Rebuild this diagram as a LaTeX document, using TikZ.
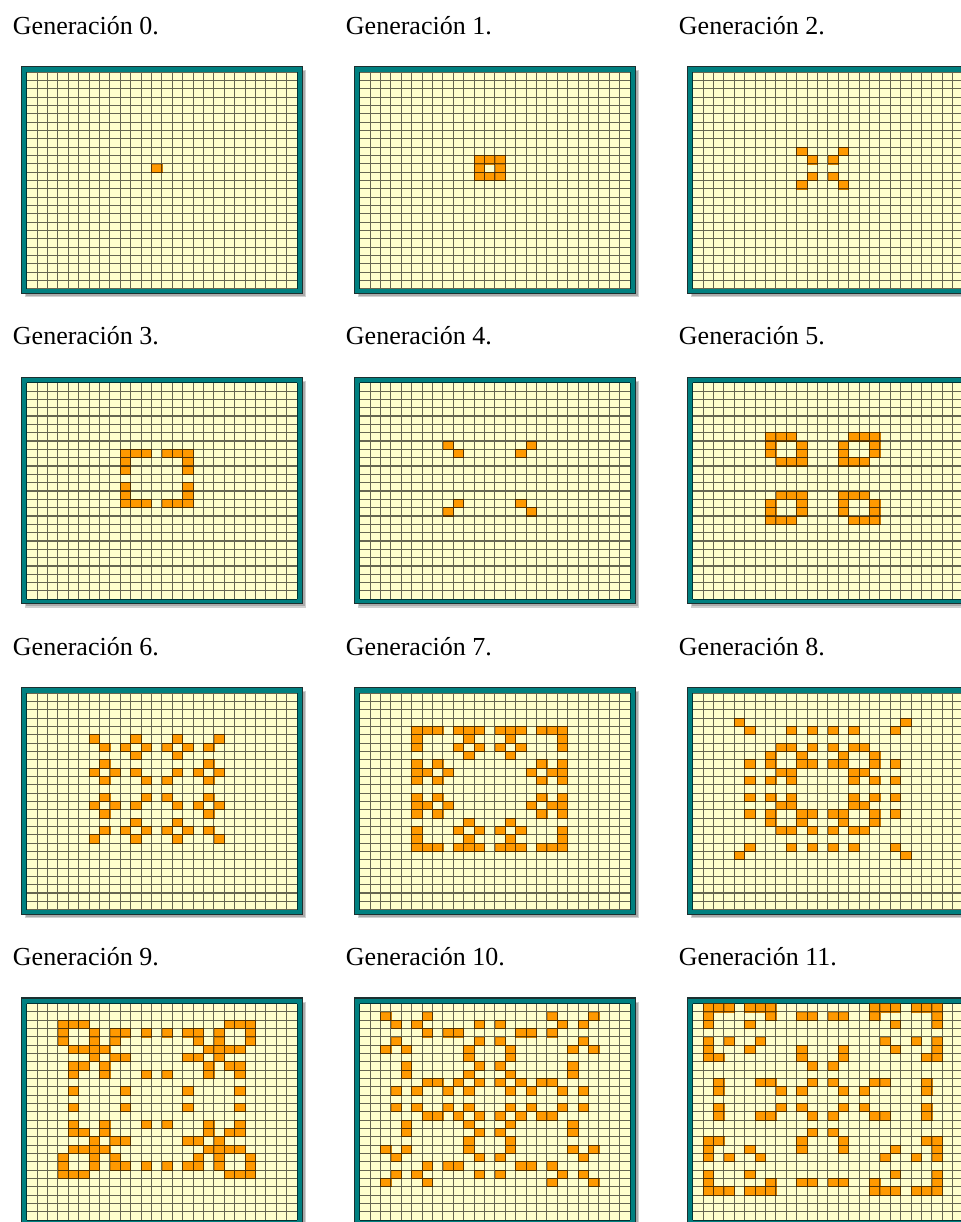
\documentclass[tikz,border=0pt]{standalone}
\usepackage{fontspec}
\setmainfont{Liberation Serif}
\usepackage{xcolor}
\usepackage{tikz}
\definecolor{cellbg}{RGB}{255,255,204}
\definecolor{liveorange}{RGB}{255,153,0}
\definecolor{frameteal}{RGB}{0,128,128}
\definecolor{framedark}{RGB}{28,48,48}
\tikzset{
  panelframe/.style={fill=frameteal, draw=framedark, line width=0.9pt},
  panelshadow/.style={fill=black, opacity=0.18},
  livecell/.style={fill=liveorange, draw=liveorange!80!black, line width=0.5pt},
  gridline/.style={draw=black, opacity=0.6, line width=0.8pt},
  genlabel/.style={anchor=base west, inner sep=0pt, font=\fontsize{19.5}{23}\selectfont}
}
% cells given for one quadrant (dx/dy from the seed), mirrored to the other three
\newcommand\gencells[1]{%
  \foreach \cx/\cy in {#1}{
    \foreach \sx in {-1,1}{
      \foreach \sy in {-1,1}{
        \path[livecell] ({(12+\sx*\cx)*10.4},{(11+\sy*\cy)*8.33}) rectangle ++(10.4,8.33);
      }}}}
% #1 column, #2 row, #3 generation, #4 cells
\newcommand\genpanel[4]{%
  \begin{scope}[shift={({26.7+333*#1},{72.3+310.4*#2})}]
    \path[panelshadow] (-2,-2) rectangle (279.5,225);
    \path[panelshadow] (-1,-1) rectangle (278,223.5);
    \path[panelframe] (-5.3,-5.5) rectangle (275.7,221);
    \fill[cellbg] (0,0) rectangle (270.4,216.6);
    \gencells{#4}
    \draw[gridline]
      \foreach \i in {0,...,26}{(\i*10.4,0) -- (\i*10.4,216.6)}
      \foreach \j in {0,...,26}{(0,\j*8.33) -- (270.4,\j*8.33)};
    \node[genlabel] (g#3) at (-14,-38) {Generación #3.};
  \end{scope}}

\begin{document}
\begin{tikzpicture}[x=0.75pt, y=-0.75pt]
  \clip (0,0) rectangle (961,1222);
  \genpanel{0}{0}{0}{0/0}
  \genpanel{1}{0}{1}{1/0,0/1,1/1}
  \genpanel{2}{0}{2}{1/1,2/2}
  \genpanel{0}{1}{3}{1/3,2/3,3/3,3/1,3/2}
  \genpanel{1}{1}{4}{3/3,4/4}
  \genpanel{2}{1}{5}{2/2,3/2,4/2,2/3,2/4,3/5,4/5,5/5,5/4,5/3}
  \genpanel{0}{2}{6}{1/1,2/2,4/2,5/1,6/2,5/3,1/5,2/4,2/6,3/5,5/5,6/6}
  \genpanel{1}{2}{7}{5/1,7/1,4/2,6/2,7/2,5/3,7/3,2/4,1/5,3/5,7/5,2/6,7/6,
    1/7,2/7,3/7,5/7,6/7,7/7}
  \genpanel{2}{2}{8}{3/1,5/1,7/1,3/2,4/2,1/3,2/3,5/3,7/3,2/4,5/4,1/5,3/5,4/5,
    1/7,3/7,7/7,8/8}
  \genpanel{0}{3}{9}{3/1,8/1,1/3,5/3,8/3,5/4,7/4,8/4,3/5,4/5,6/5,5/6,6/6,7/6,
    8/6,4/7,6/7,9/7,1/8,3/8,4/8,6/8,9/8,7/9,8/9,9/9}
  \genpanel{1}{3}{10}{2/1,4/1,7/1,9/1,1/2,3/2,5/2,6/2,2/3,8/3,1/4,8/4,2/5,2/6,
    8/6,10/6,1/7,9/7,3/8,4/8,6/8,1/9,7/9,9/9,6/10,10/10}
  \genpanel{2}{3}{11}{2/1,4/1,10/1,1/2,5/2,6/2,10/2,1/4,2/5,10/5,11/5,2/6,7/6,
    11/6,6/7,9/7,11/7,7/9,11/9,1/10,2/10,5/10,11/10,5/11,6/11,7/11,9/11,
    10/11,11/11}
\end{tikzpicture}
\end{document}
